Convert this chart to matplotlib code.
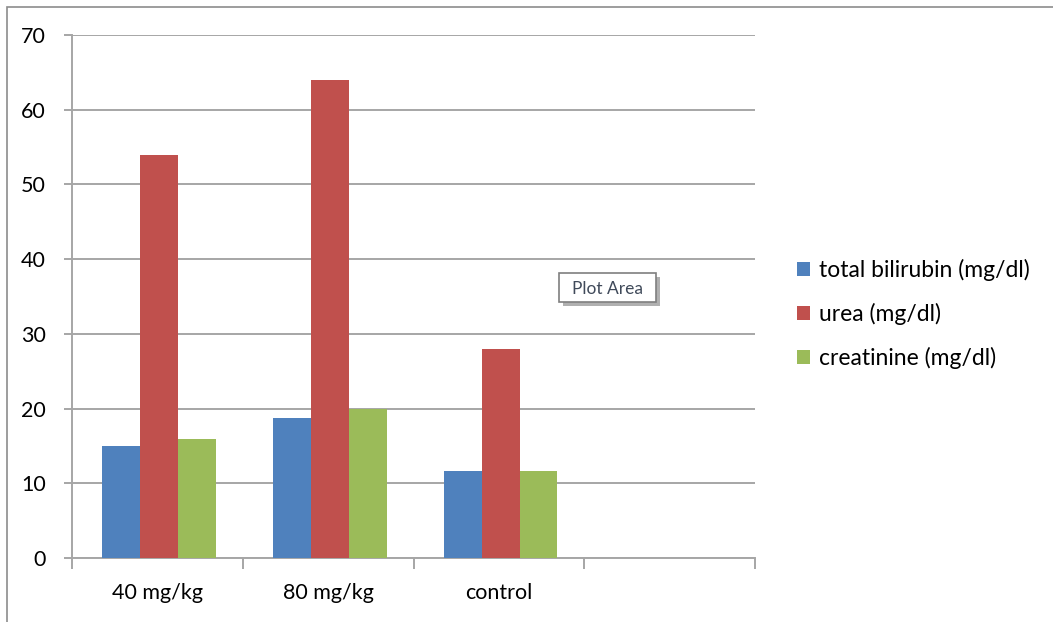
import numpy as np
import matplotlib.pyplot as plt
from matplotlib.patches import Rectangle

plt.rcParams['font.family'] = ['Lato', 'DejaVu Sans']

# data
groups = ['40 mg/kg', '80 mg/kg', 'control', '']
series = ['total bilirubin (mg/dl)', 'urea (mg/dl)', 'creatinine (mg/dl)']
bilirubin = [15, 18.8, 11.7, np.nan]
urea = [54, 64, 28, np.nan]
creatinine = [15.9, 20, 11.7, np.nan]
colors = ['#4f81bd', '#c0504d', '#9bbb59']
grid_col = '#a6a6a6'

fig = plt.figure(figsize=(10.53, 6.22), dpi=100)
ax = fig.add_axes([72 / 1053, 64 / 622, 683 / 1053, 523 / 622])

# outer chart frame
fig.patches.append(Rectangle((7 / 1053, -0.05), 1.1, (615 / 622) + 0.05,
                             transform=fig.transFigure, fill=False,
                             edgecolor='#8c8c8c', lw=1.2, zorder=0))

x = np.arange(len(groups))
w = 1 / 4.5
for i, (vals, name) in enumerate(zip([bilirubin, urea, creatinine], series)):
    ax.bar(x + (i - 1) * w + 0.01, vals, width=w, color=colors[i], label=name,
           edgecolor='none', zorder=3)

ax.set_xlim(-0.5, 3.5)
ax.set_ylim(0, 70)
ax.set_yticks(range(0, 71, 10))
ax.yaxis.grid(True, color=grid_col, lw=1.4, zorder=0)
ax.set_axisbelow(True)

for s in ['top', 'right']:
    ax.spines[s].set_visible(False)
for s in ['left', 'bottom']:
    ax.spines[s].set_color(grid_col)
    ax.spines[s].set_linewidth(1.4)

# category labels centred, ticks on category boundaries
ax.set_xticks(x)
ax.set_xticklabels(groups)
ax.tick_params(axis='x', which='major', length=0, pad=18, labelsize=15.5)
ax.set_xticks(np.arange(-0.5, 4, 1), minor=True)
ax.tick_params(axis='x', which='minor', length=8, width=1.4, color=grid_col)
ax.tick_params(axis='y', length=6, width=1.4, color=grid_col, pad=13, labelsize=15.5)

ax.legend(loc='center left', bbox_to_anchor=(1.032, 0.466), frameon=False,
          fontsize=16.5, handlelength=0.55, handleheight=0.55, handletextpad=0.4,
          labelspacing=0.95)

# hover label
fig.patches.append(Rectangle((563 / 1053, 1 - 306 / 622), 97 / 1053, 29 / 622,
                             transform=fig.transFigure, facecolor='#b0b0b0',
                             edgecolor='none', zorder=5))
fig.patches.append(Rectangle((559 / 1053, 1 - 302 / 622), 97 / 1053, 29 / 622,
                             transform=fig.transFigure, facecolor='white',
                             edgecolor='#7f7f7f', lw=1.2, zorder=6))
fig.text(607 / 1053, 1 - 289 / 622, 'Plot Area', ha='center', va='center',
         fontsize=12.5, color='#404a5a', zorder=7)

fig.savefig('out.png', dpi=100)
